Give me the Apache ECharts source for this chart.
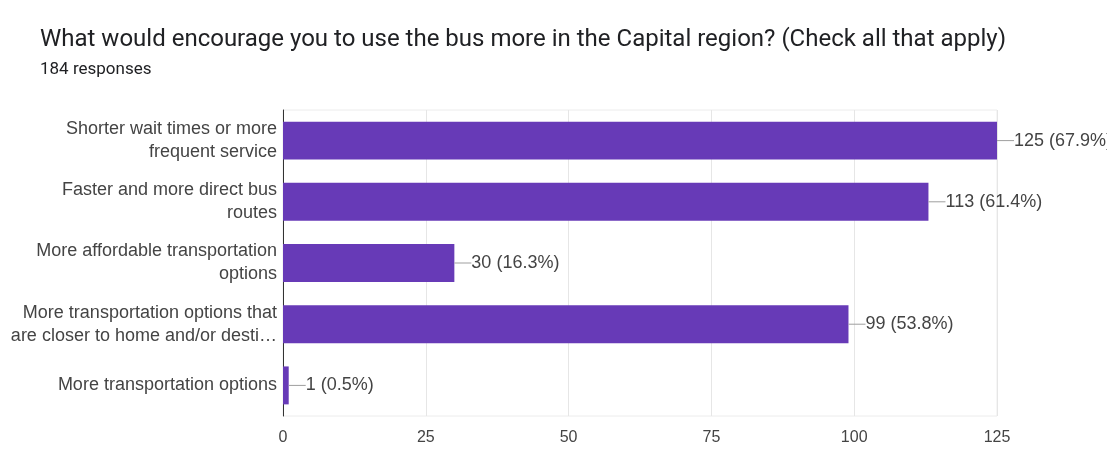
<!DOCTYPE html>
<html>
<head>
<meta charset="utf-8">
<script src="https://cdn.jsdelivr.net/npm/echarts@6/dist/echarts.min.js"></script>
<style>
  html, body { margin: 0; padding: 0; background: #ffffff; }
  #chart { width: 1107px; height: 461px; }
</style>
</head>
<body>
<div id="chart"></div>
<script>
// Survey answers, top to bottom
const categories = [
  'Shorter wait times or more\nfrequent service',
  'Faster and more direct bus\nroutes',
  'More affordable transportation\noptions',
  'More transportation options that\nare closer to home and/or desti\u2026',
  'More transportation options'
];
const counts = [125, 113, 30, 99, 1];
const percents = ['67.9%', '61.4%', '16.3%', '53.8%', '0.5%'];
const xTicks = [0, 25, 50, 75, 100, 125];

const titleText = 'What would encourage you to use the bus more in the Capital region? (Check all that apply)';
const subtitleText = '184 responses';

const chart = echarts.init(document.getElementById('chart'), null, { renderer: 'canvas' });

chart.setOption({
  animation: false,
  backgroundColor: '#ffffff',
  title: {
    text: titleText,
    subtext: subtitleText,
    left: 35,
    top: 23,
    itemGap: 9,
    textStyle: { fontFamily: 'Roboto', fontSize: 24, fontWeight: 'normal', color: '#202124' },
    subtextStyle: { fontFamily: 'Roboto', fontSize: 17, color: '#202124' }
  },
  grid: {
    left: 283, right: 110, top: 110, bottom: 45,
    show: true, borderColor: '#ececec', borderWidth: 1
  },
  xAxis: {
    type: 'value',
    min: xTicks[0],
    max: xTicks[xTicks.length - 1],
    interval: 25,
    axisLine: { show: false },
    axisTick: { show: false },
    splitLine: { show: true, lineStyle: { color: '#e6e6e6', width: 1 } },
    axisLabel: {
      margin: 14,
      fontFamily: 'Liberation Sans', fontSize: 16, color: '#444444',
      customValues: xTicks
    }
  },
  yAxis: {
    type: 'category',
    data: categories,
    inverse: true,
    axisLine: { show: true, lineStyle: { color: '#333333', width: 1 } },
    axisTick: { show: false },
    splitLine: { show: false },
    axisLabel: {
      margin: 6,
      fontFamily: 'Liberation Sans', fontSize: 18, lineHeight: 23,
      color: '#444444', align: 'right'
    }
  },
  series: [{
    type: 'bar',
    data: counts,
    barCategoryGap: '38%',
    itemStyle: { color: '#673ab7' },
    label: {
      show: true,
      position: 'right',
      distance: 0,
      formatter: (p) => '{line|}{val|' + counts[p.dataIndex] + ' (' + percents[p.dataIndex] + ')}',
      rich: {
        line: { width: 17, height: 1, backgroundColor: '#9e9e9e', verticalAlign: 'middle' },
        val: { fontFamily: 'Liberation Sans', fontSize: 18, color: '#444444', verticalAlign: 'middle' }
      }
    }
  }]
});
</script>
</body>
</html>
